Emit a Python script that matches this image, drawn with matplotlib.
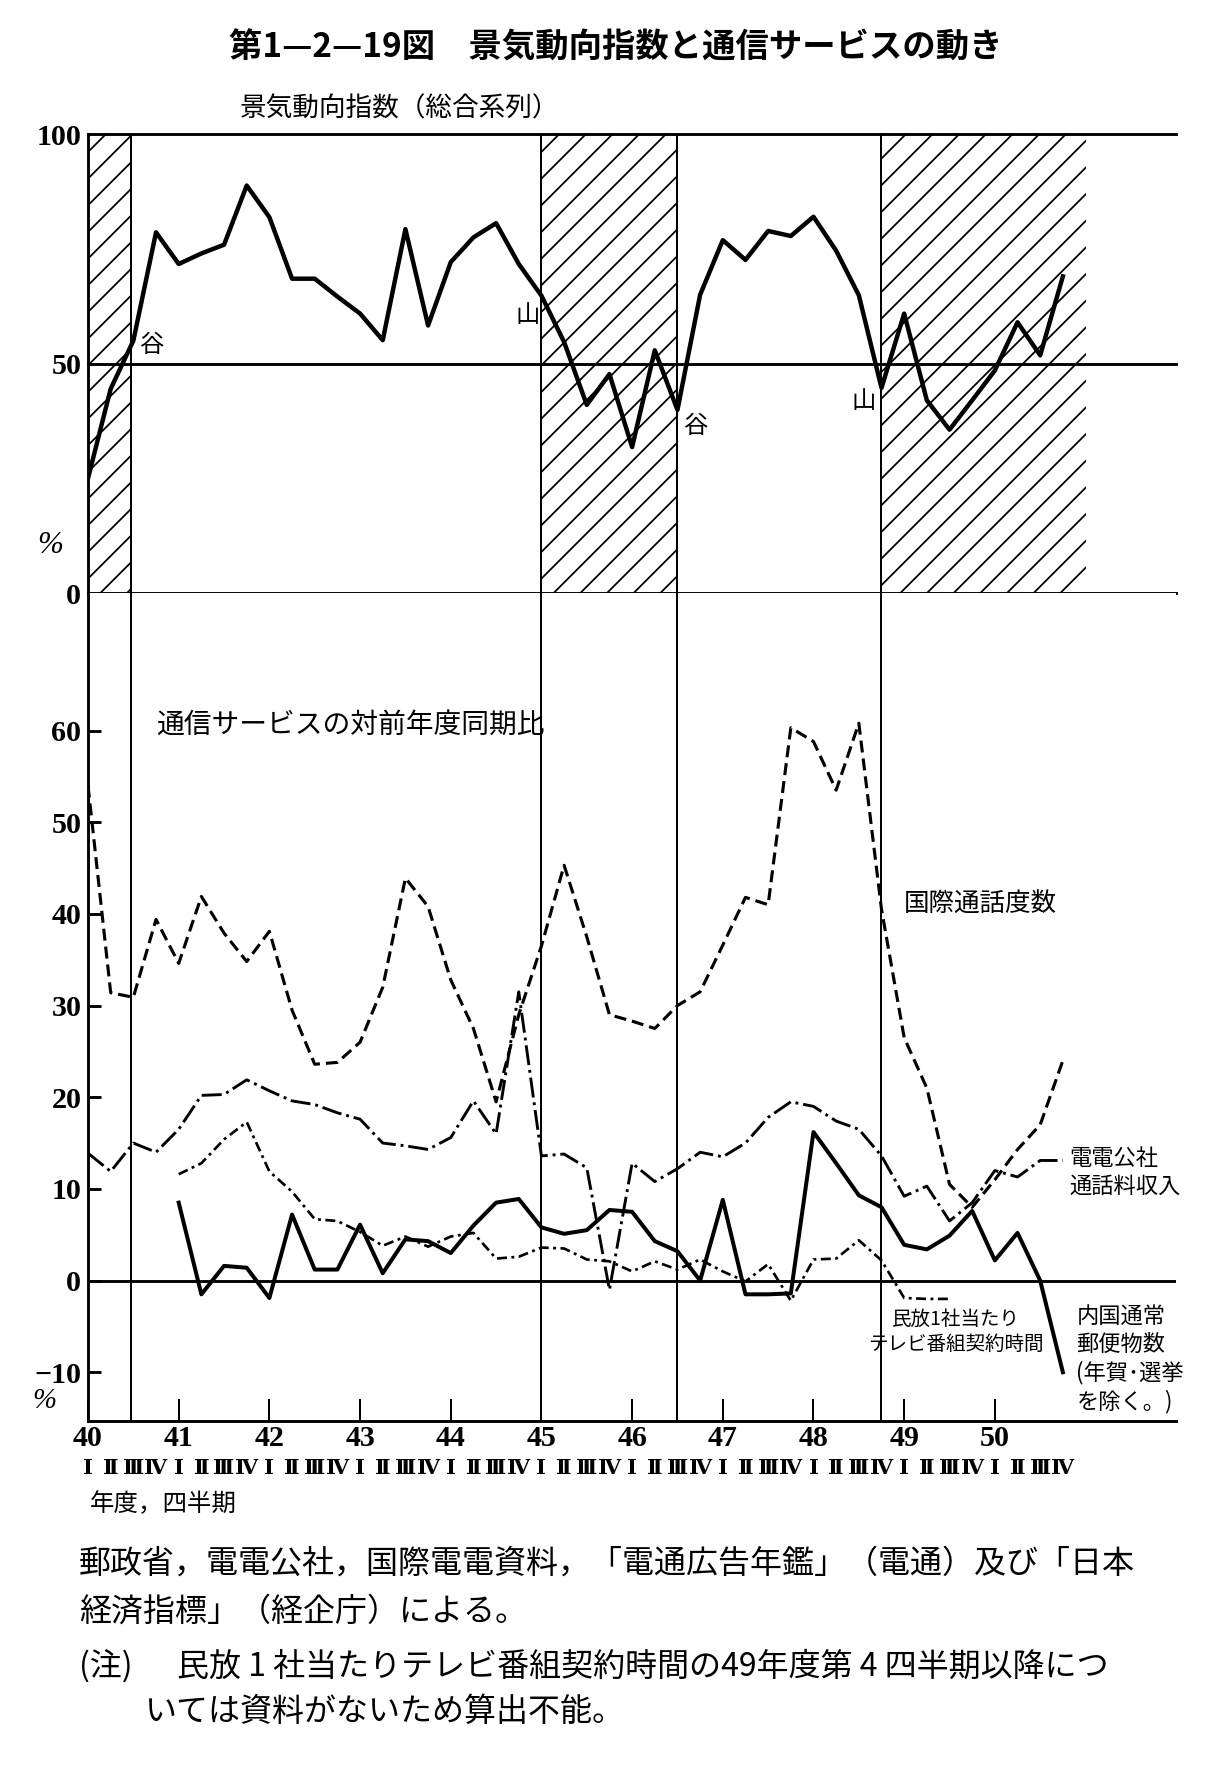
import matplotlib
matplotlib.use('Agg')
import matplotlib.pyplot as plt
import matplotlib.transforms as mtransforms
import numpy as np

plt.rcParams['font.family'] = ['Noto Sans CJK JP', 'DejaVu Sans']
plt.rcParams['hatch.linewidth'] = 0.8
plt.rcParams['lines.scale_dashes'] = False

# 四半期 0 = 40年度 I ... 43 = 50年度 IV
quarters = np.arange(44)
years = ['40', '41', '42', '43', '44', '45', '46', '47', '48', '49', '50']
roman = ['Ⅰ', 'Ⅱ', 'Ⅲ', 'Ⅳ']

# 景気動向指数（総合系列）
keiki = [25, 44.5, 55, 78.6, 71.7, 74, 75.9, 88.8, 81.9, 68.5, 68.5, 64.6, 60.9, 55.1,
         79.3, 58.3, 72.1, 77.5, 80.6, 71.7, 64.8, 54.7, 41, 47.7, 31.8, 52.9, 39.9, 65,
         76.9, 72.6, 78.9, 77.8, 82, 74.6, 64.9, 44.7, 60.9, 42, 35.6, 42, 48.5, 59, 51.8, 69]

# 国際通話度数
kokusai = [54, 31.4, 30.9, 39.4, 34.6, 41.9, 37.9, 34.8, 38.1, 29.5, 23.6, 23.8, 26, 32,
           43.9, 40.8, 32.8, 27.5, 19.5, 29, 36.5, 45.3, 37.5, 29, 28.3, 27.5, 30, 31.5,
           36.6, 41.8, 41, 60.3, 58.8, 53.5, 60.8, 40.5, 26.5, 21, 10.5, 8.0, 11, 14.3, 17, 24]

# 電電公社通話料収入
denden = [13.9, 11.9, 15, 14, 16.5, 20.2, 20.3, 21.9, 20.7, 19.6, 19.2, 18.3, 17.6, 15,
          14.7, 14.3, 15.6, 19.6, 16, 31.5, 13.6, 13.8, 12.3, -1, 12.8, 10.8, 12.2, 14,
          13.5, 15, 17.8, 19.5, 19, 17.4, 16.5, 13.6, 9.2, 10.3, 6.5, 8.5, 12, 11.3, 13.1, 13.1]

# 民放1社当たりテレビ番組契約時間 (41年度I ~ 49年度III)
tv_q = np.arange(4, 39)
tv = [11.6, 12.8, 15.4, 17.3, 11.9, 9.7, 6.7, 6.5, 5.3, 3.8, 4.8, 3.7, 4.8, 5.2, 2.4,
      2.6, 3.6, 3.5, 2.3, 2.1, 1.0, 2.1, 1.2, 2.3, 1.0, -0.1, 1.8, -2.2, 2.3, 2.4, 4.4,
      2.2, -1.9, -2, -2]

# 内国通常郵便物数 (41年度I ~ 50年度IV)
yubin_q = np.arange(4, 44)
yubin = [8.5, -1.5, 1.6, 1.4, -1.9, 7.2, 1.2, 1.2, 6.1, 0.8, 4.5, 4.3, 3.0, 6.0, 8.5,
         8.9, 5.8, 5.1, 5.5, 7.7, 7.5, 4.3, 3.2, 0, 8.8, -1.5, -1.5, -1.4, 16.2, 12.8,
         9.3, 8, 3.9, 3.4, 4.9, 7.6, 2.2, 5.2, 0, -10]

# 景気後退期 (シャドー) と山・谷
recessions = [(0, 1.9), (20, 26), (35, 44)]
turns = [1.9, 20, 26, 35]

fig = plt.figure(figsize=(1231 / 160, 1765 / 160), dpi=160)
ax1 = fig.add_axes([0.0715, 0.664, 0.884, 0.260])
ax2 = fig.add_axes([0.0715, 0.195, 0.884, 0.469])

numfont = dict(fontfamily='Liberation Serif', fontweight='bold', fontsize=13.5)

# ---- 上段 景気動向指数
ax1.set_xlim(0, 48)
ax1.set_ylim(0, 100)
for s in ['top', 'right', 'bottom']:
    ax1.spines[s].set_visible(False)
ax1.spines['left'].set_linewidth(1.3)
for yv in [0, 50, 100]:
    ax1.axhline(yv, color='black', lw=1.3, clip_on=False)
for a, b in recessions:
    ax1.axvspan(a, b, facecolor='none', edgecolor='black', hatch='//', lw=0)
for t in turns:
    ax1.axvline(t, color='black', lw=0.9)
ax1.plot(quarters, keiki, color='black', lw=2.0, zorder=5)
ax1.set_xticks([])
ax1.set_yticks([0, 50, 100])
ax1.set_yticklabels(['0', '50', '100'], **numfont)
ax1.tick_params(axis='y', length=0, pad=3)

ax1.text(2.85, 54, '谷', fontsize=11, ha='center', va='center')
ax1.text(19.4, 60.6, '山', fontsize=11, ha='center', va='center')
ax1.text(26.85, 36.5, '谷', fontsize=11, ha='center', va='center')
ax1.text(34.2, 41.8, '山', fontsize=11, ha='center', va='center')

# ---- 下段 通信サービス
ax2.set_xlim(0, 48)
ax2.set_ylim(-15.3, 75)
for s in ['top', 'right']:
    ax2.spines[s].set_visible(False)
ax2.spines['left'].set_linewidth(1.3)
ax2.spines['bottom'].set_linewidth(1.3)
ax2.axhline(0, color='black', lw=1.3)
for t in turns:
    ax2.axvline(t, color='black', lw=0.9)

ax2.plot(quarters, kokusai, color='black', lw=1.4, linestyle=(0, (5.4, 2.7)))
ax2.plot(quarters, denden, color='black', lw=1.3, linestyle=(0, (9, 2.2, 1.3, 2.2)))
ax2.plot(tv_q, tv, color='black', lw=1.2, linestyle=(0, (4.5, 2, 1.3, 2)))
ax2.plot(yubin_q, yubin, color='black', lw=1.8)

ax2.set_yticks([-10, 0, 10, 20, 30, 40, 50, 60])
ax2.set_yticklabels(['−10', '0', '10', '20', '30', '40', '50', '60'], **numfont)
ax2.tick_params(axis='y', direction='in', length=6, width=1.3, pad=3)
ax2.set_xticks(np.arange(0, 44, 4))
ax2.set_xticklabels(years, **numfont)
ax2.tick_params(axis='x', direction='in', length=10, width=0.9, pad=2)

trans = mtransforms.blended_transform_factory(ax2.transData, fig.transFigure)
for i in quarters:
    ax2.text(i, 0.168, roman[i % 4], transform=trans, ha='center', va='center',
             fontsize=9.5, fontweight='bold',
             fontfamily=['DejaVu Serif', 'Noto Sans CJK JP'])

ax2.text(3.0, 60.6, '通信サービスの対前年度同期比', fontsize=12.5, ha='left', va='center')
ax2.text(36.0, 41, '国際通話度数', fontsize=11.5, ha='left', va='center')
ax2.text(43.3, 11.8, '電電公社\n通話料収入', fontsize=10, ha='left', va='center',
         linespacing=1.3)
ax2.text(38.3, -5.6, '民放1社当たり\nテレビ番組契約時間', fontsize=8.8, ha='center',
         va='center', linespacing=1.3)
ax2.text(43.6, -8.6, '内国通常\n郵便物数\n(年賀･選挙\nを除く。)', fontsize=10,
         ha='left', va='center', linespacing=1.25)

# ---- 文字
fig.text(0.5, 0.973, '第1—2—19図　景気動向指数と通信サービスの動き', fontsize=15,
         fontweight='bold', ha='center', va='center')
fig.text(0.195, 0.9385, '景気動向指数（総合系列）', fontsize=12, ha='left', va='center')
fig.text(0.041, 0.691, '%', fontsize=14, fontfamily='Liberation Serif', style='italic',
         ha='center', va='center')
fig.text(0.036, 0.206, '%', fontsize=13, fontfamily='Liberation Serif', style='italic',
         ha='center', va='center')
fig.text(0.073, 0.148, '年度，四半期', fontsize=11, ha='left', va='center')

fig.text(0.064, 0.114, '郵政省，電電公社，国際電電資料，「電通広告年鑑」（電通）及び「日本',
         fontsize=14.4, ha='left', va='center')
fig.text(0.064, 0.087, '経済指標」（経企庁）による。', fontsize=14.4, ha='left', va='center')
fig.text(0.064, 0.0555, '(注)', fontsize=14.4, ha='left', va='center')
fig.text(0.1438, 0.0555, '民放 1 社当たりテレビ番組契約時間の49年度第 4 四半期以降につ',
         fontsize=14.4, ha='left', va='center')
fig.text(0.118, 0.030, 'いては資料がないため算出不能。', fontsize=14.4, ha='left', va='center')

fig.savefig('out.png', dpi=160, facecolor='white')
